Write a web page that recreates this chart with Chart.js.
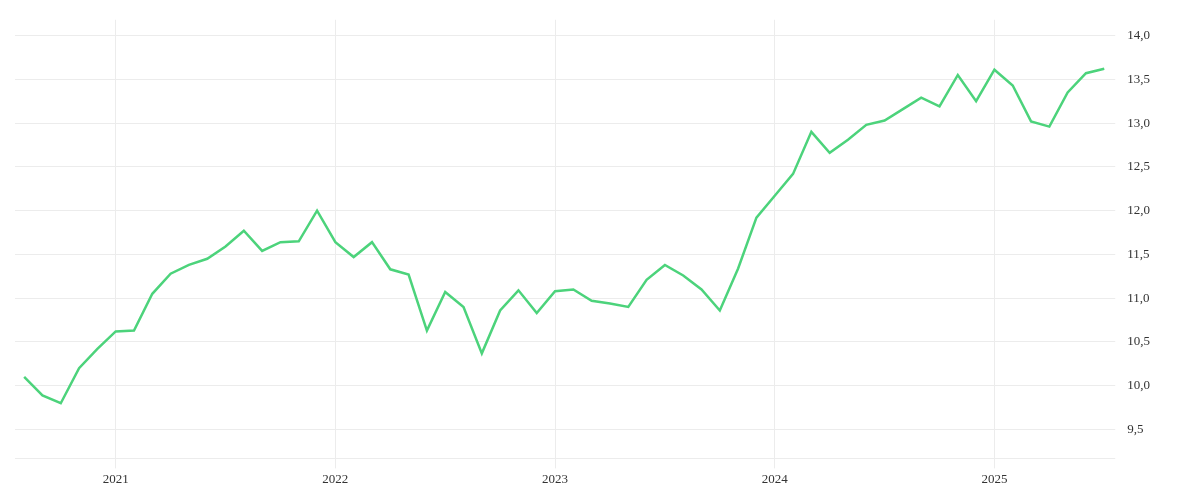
<!DOCTYPE html>
<html><head><meta charset="utf-8">
<script src="https://cdn.jsdelivr.net/npm/chart.js@4"></script>
<style>html,body{margin:0;background:#fff}#w{width:1200px;height:500px}</style>
</head><body><div id="w"><canvas id="c"></canvas></div>
<script>
const startYear = 2020, startMonth = 8; // first point: Aug 2020
const values = [10.10,9.89,9.80,10.20,10.42,10.62,10.63,11.05,11.28,11.38,11.45,11.59,11.77,11.54,11.64,11.65,12.00,
11.64,11.47,11.64,11.33,11.27,10.63,11.07,10.90,10.37,10.86,11.09,10.83,
11.08,11.10,10.97,10.94,10.90,11.21,11.38,11.26,11.10,10.86,11.34,11.92,
12.17,12.42,12.90,12.66,12.81,12.98,13.03,13.16,13.29,13.19,13.55,13.25,
13.61,13.43,13.02,12.96,13.35,13.57,13.62];
const yearTicks = [2021,2022,2023,2024,2025];
const yTicks = [9.5,10,10.5,11,11.5,12,12.5,13,13.5,14];
const yMin = 9.17, yMax = 14.18;
const pts = values.map((v,i)=>({x:i,y:v}));
const yearIdx = y => (y-startYear)*12 + 1 - startMonth;
const F = {family:'"Liberation Serif", serif', size:13};
new Chart(document.getElementById('c'),{
 type:'line',
 data:{datasets:[{data:pts,borderColor:'#4cd37b',borderWidth:2.5,pointRadius:0,tension:0,fill:false}]},
 options:{responsive:true,maintainAspectRatio:false,animation:false,
  layout:{padding:{left:15,top:4,right:38,bottom:10}},
  plugins:{legend:{display:false},tooltip:{enabled:false}},
  scales:{
   x:{type:'linear',min:-0.5,max:59.6,
     afterBuildTicks:a=>{a.ticks=yearTicks.map(y=>({value:yearIdx(y)}));},
     ticks:{font:F,color:'#333',maxRotation:0,autoSkip:false,
       callback:v=>String(startYear+Math.floor((v+startMonth-1)/12))},
     grid:{color:'#ececec',tickLength:10},border:{display:false}},
   y:{position:'right',min:yMin,max:yMax,
     afterBuildTicks:a=>{a.ticks=[yMin].concat(yTicks).map(v=>({value:v}));},
     ticks:{font:F,color:'#333',padding:12,callback:v=>v===yMin?'':v.toFixed(1).replace('.',',')},
     grid:{color:'#ececec',tickLength:0},border:{display:false}}
  }}
});
</script></body></html>
